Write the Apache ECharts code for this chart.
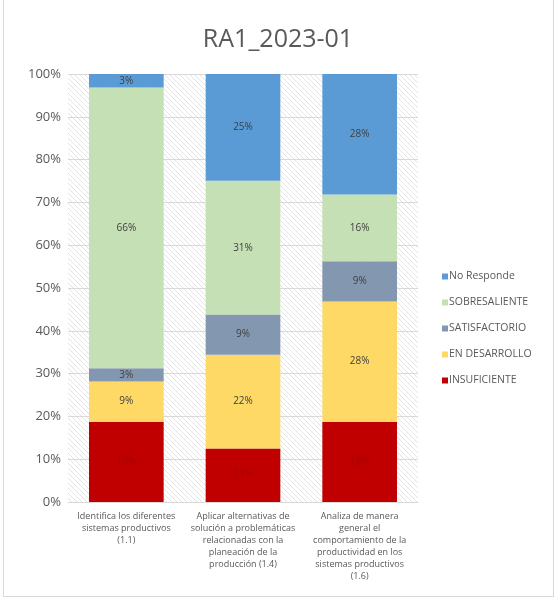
<!DOCTYPE html>
<html><head><meta charset="utf-8">
<script src="https://cdn.jsdelivr.net/npm/echarts@6/dist/echarts.min.js"></script>
<style>
html,body{margin:0;padding:0;background:#fff;}
#frame{position:absolute;left:3px;top:0;width:551px;height:597px;border:1px solid #d9d9d9;border-top:none;box-sizing:border-box;}
#c{position:absolute;left:0;top:0;width:556px;height:601px;}
</style></head>
<body>
<div id="frame"></div>
<div id="c"></div>
<script>
var categories = [
  "Identifica los diferentes\nsistemas productivos\n(1.1)",
  "Aplicar alternativas de\nsolución a problemáticas\nrelacionadas con la\nplaneación de la\nproducción (1.4)",
  "Analiza de manera\ngeneral el\ncomportamiento de la\nproductividad en los\nsistemas productivos\n(1.6)"
];
var insuficiente = [18.75, 12.5, 18.75];
var enDesarrollo = [9.4, 21.9, 28.1];
var satisfactorio = [3.1, 9.4, 9.4];
var sobresaliente = [65.6, 31.25, 15.6];
var noResponde = [3.15, 24.95, 28.15];
var yTicks = [0, 10, 20, 30, 40, 50, 60, 70, 80, 90, 100];

var hatch = document.createElement('canvas');
hatch.width = 5; hatch.height = 5;
var hc = hatch.getContext('2d');
hc.fillStyle = '#ffffff'; hc.fillRect(0,0,5,5);
hc.strokeStyle = '#e4e4e4'; hc.lineWidth = 1;
hc.beginPath();
hc.moveTo(-1,-1); hc.lineTo(6,6);
hc.moveTo(-6,-1); hc.lineTo(1,6);
hc.moveTo(4,-1); hc.lineTo(11,6);
hc.stroke();

var chart = echarts.init(document.getElementById('c'), null, {renderer:'canvas'});
function mk(name, data, color, labelColor){
  return {
    name: name, type: 'bar', stack: 'total', data: data,
    barCategoryGap: '36%',
    itemStyle: {color: color},
    label: {show: true, position: 'inside', fontSize: 10, color: labelColor,
      fontFamily: 'Open Sans',
      formatter: function(p){ return Math.round(p.value) + '%'; }}
  };
}
chart.setOption({
  animation: false,
  title: {text: 'RA1_2023-01', left: 'center', top: 22,
    textStyle: {fontSize: 25, fontWeight: 'normal', color: '#595959', fontFamily: 'Open Sans'}},
  grid: {left: 68, right: 138, top: 74, bottom: 99, show: true,
    backgroundColor: {image: hatch, repeat: 'repeat'}, borderWidth: 0},
  legend: {orient: 'vertical', left: 437, top: 266, itemWidth: 6, itemHeight: 6, itemGap: 15,
    icon: 'rect',
    data: ['No Responde', 'SOBRESALIENTE', 'SATISFACTORIO', 'EN DESARROLLO', 'INSUFICIENTE'],
    textStyle: {fontSize: 10.5, color: '#595959', fontFamily: 'Open Sans', padding: [0,0,0,-4]}},
  xAxis: {type: 'category', data: categories,
    axisLine: {lineStyle: {color: '#d9d9d9'}}, axisTick: {show: false},
    axisLabel: {fontSize: 9, color: '#595959', lineHeight: 12, margin: 8, interval: 0,
      fontFamily: 'Open Sans'}},
  yAxis: {type: 'value', min: 0, max: 100, interval: 10,
    axisLabel: {fontSize: 13, color: '#595959', margin: 7, fontFamily: 'Open Sans',
      formatter: function(v){ return yTicks.indexOf(v) >= 0 ? v + '%' : ''; }},
    splitLine: {lineStyle: {color: '#d9d9d9'}},
    axisLine: {show: false}, axisTick: {show: false}},
  series: [
    mk('INSUFICIENTE', insuficiente, '#c00000', '#a80000'),
    mk('EN DESARROLLO', enDesarrollo, '#ffd966', '#404040'),
    mk('SATISFACTORIO', satisfactorio, '#8497b0', '#404040'),
    mk('SOBRESALIENTE', sobresaliente, '#c5e0b4', '#404040'),
    mk('No Responde', noResponde, '#5b9bd5', '#404040')
  ]
});
</script>
</body></html>
